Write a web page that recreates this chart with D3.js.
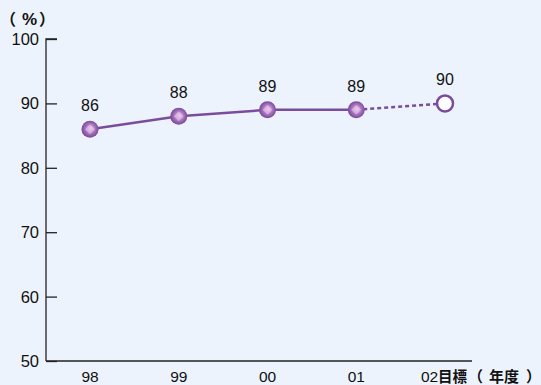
<!DOCTYPE html>
<html><head><meta charset="utf-8">
<script src="https://cdn.jsdelivr.net/npm/d3@7"></script>
<style>
html,body{margin:0;padding:0;background:#edf3fc;}
svg{display:block;font-family:"Liberation Sans",Arial,sans-serif;text-spacing-trim:space-all;}
</style></head>
<body>
<svg id="chart" width="541" height="385"></svg>
<script>
// Yearly values (%) and the target year
const categories = ["98", "99", "00", "01", "02"];
const values = [86, 88, 89, 89, 90];
const yTicks = [50, 60, 70, 80, 90, 100];
const targetIndex = 4;

const svg = d3.select("#chart");
const W = 541, H = 385;
svg.append("rect").attr("width", W).attr("height", H).attr("fill", "#edf3fc");

const x = d3.scalePoint().domain(categories).range([90, 445]);
const y = d3.scaleLinear().domain([50, 100]).range([361, 39]);
const purple = "#7b4c9c";
const cjk = "'Noto Sans CJK JP',sans-serif";

// gradient for the filled markers
const defs = svg.append("defs");
const g = defs.append("radialGradient").attr("id", "ball")
  .attr("cx", "50%").attr("cy", "50%").attr("r", "60%")
  .attr("fx", "55%").attr("fy", "45%");
g.append("stop").attr("offset", "0%").attr("stop-color", "#f0d0f0");
g.append("stop").attr("offset", "35%").attr("stop-color", "#b784c6");
g.append("stop").attr("offset", "75%").attr("stop-color", "#8353a3");
g.append("stop").attr("offset", "100%").attr("stop-color", "#643a86");

// y axis
const yAxis = d3.axisRight(y).tickValues(yTicks).tickSize(11).tickFormat("");
const ya = svg.append("g").attr("transform", "translate(46,0)").call(yAxis);
ya.select(".domain").attr("stroke", "#222").attr("stroke-width", 1.3)
  .attr("d", `M11,${y(100)}H0V${y(50)}`);
ya.selectAll(".tick line").attr("stroke", "#222").attr("stroke-width", 1.3);
svg.selectAll(".ylab").data(yTicks).enter().append("text")
  .attr("x", 39).attr("y", d => y(d) + 6).attr("text-anchor", "end")
  .attr("font-size", 16.5).attr("fill", "#111").text(d => d);

// x axis baseline
svg.append("line").attr("x1", 46).attr("x2", 472).attr("y1", y(50)).attr("y2", y(50))
  .attr("stroke", "#222").attr("stroke-width", 1.3);

// x labels
svg.selectAll(".xlab").data(categories.slice(0, targetIndex)).enter().append("text")
  .attr("x", d => x(d)).attr("y", 382).attr("text-anchor", "middle")
  .attr("font-size", 15.5).attr("fill", "#111").text(d => d);
const tgt = svg.append("text").attr("y", 382).attr("fill", "#111");
tgt.append("tspan").attr("x", 421).attr("font-size", 15.5).text(categories[targetIndex]);
tgt.append("tspan").attr("x", 438).attr("font-size", 14.5).attr("font-weight", "bold")
  .attr("font-family", cjk).text("目標");

// unit labels
const unitX = svg.append("text").attr("y", 382).attr("font-size", 15).attr("font-weight", "bold")
  .attr("font-family", cjk).attr("fill", "#111");
unitX.append("tspan").attr("x", 468).text("（");
unitX.append("tspan").attr("x", 489).text("年度");
unitX.append("tspan").attr("x", 526).text("）");

const unitY = svg.append("text").attr("y", 25).attr("font-weight", "bold").attr("fill", "#111");
unitY.append("tspan").attr("x", 0).attr("font-size", 16).attr("font-family", cjk).text("（");
unitY.append("tspan").attr("x", 22).attr("font-size", 17).text("%");
unitY.append("tspan").attr("x", 39).attr("font-size", 16).attr("font-family", cjk).text("）");

// lines
const pts = categories.map((c, i) => [x(c), y(values[i])]);
const line = d3.line();
svg.append("path").attr("d", line(pts.slice(0, targetIndex)))
  .attr("fill", "none").attr("stroke", purple).attr("stroke-width", 2.5);
svg.append("path").attr("d", line(pts.slice(targetIndex - 1)))
  .attr("fill", "none").attr("stroke", purple).attr("stroke-width", 2.5)
  .attr("stroke-dasharray", "4,3");

// markers
categories.forEach((c, i) => {
  const [px, py] = pts[i];
  if (i === targetIndex) {
    svg.append("circle").attr("cx", px).attr("cy", py).attr("r", 8)
      .attr("fill", "#fff").attr("stroke", purple).attr("stroke-width", 2.5);
  } else {
    svg.append("circle").attr("cx", px).attr("cy", py).attr("r", 8.5).attr("fill", "url(#ball)");
    svg.append("path").attr("d", `M${px},${py - 5}L${px + 5},${py}L${px},${py + 5}L${px - 5},${py}Z`)
      .attr("fill", "#e9c5ec").attr("opacity", 0.6);
  }
  svg.append("text").attr("x", px).attr("y", py - 18).attr("text-anchor", "middle")
    .attr("font-size", 16).attr("fill", "#111").text(values[i]);
});
</script>
</body></html>
